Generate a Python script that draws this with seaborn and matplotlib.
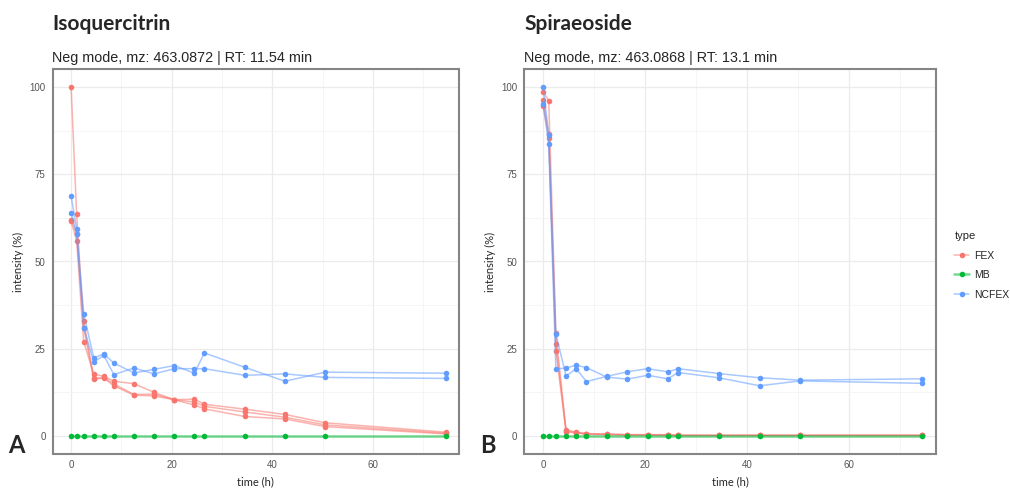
import numpy as np
import pandas as pd
import matplotlib
matplotlib.use("Agg")
import matplotlib.pyplot as plt
import seaborn as sns
from matplotlib.colors import to_rgba

# sampling times (h)
time_h = [0, 1.1, 2.5, 4.5, 6.5, 8.5, 12.5, 16.5, 20.5, 24.5, 26.5, 34.5, 42.5, 50.5, 74.5]

# Isoquercitrin, relative intensity (%)
iso_fex_1 = [100, 63.5, 31, 16.3, 16.6, 14.4, 11.7, 11.5, 10.4, 8.9, 7.8, 5.6, 4.9, 2.7, 0.6]
iso_fex_2 = [61.5, 56, 27, 17.8, 17.1, 15.7, 15.0, 12.5, 10.4, 10.6, 9.1, 7.7, 6.2, 3.8, 1.1]
iso_fex_3 = [62, 58, 33, 16.5, 16.8, 14.9, 11.9, 12.0, 10.4, 9.8, 8.5, 6.9, 5.4, 3.2, 0.8]
iso_nc_1 = [68.7, 59.3, 35, 22.4, 23.5, 20.9, 18.1, 19.1, 20.2, 18.0, 23.8, 19.7, 15.7, 18.3, 18.0]
iso_nc_2 = [64, 58, 31, 21.2, 23.1, 17.6, 19.5, 17.8, 19.3, 19.3, 19.3, 17.4, 17.8, 16.8, 16.5]

# Spiraeoside, relative intensity (%)
spi_fex_1 = [98.6, 96.1, 29.5, 1.7, 1.2, 0.7, 0.6, 0.4, 0.4, 0.4, 0.2, 0.2, 0.2, 0.2, 0.2]
spi_fex_2 = [96.4, 86.5, 26.5, 1.4, 1.0, 0.6, 0.5, 0.4, 0.3, 0.3, 0.2, 0.2, 0.2, 0.2, 0.2]
spi_fex_3 = [94.5, 85.5, 24.5, 1.2, 0.9, 0.5, 0.4, 0.3, 0.3, 0.2, 0.2, 0.2, 0.2, 0.2, 0.2]
spi_nc_1 = [100, 86.2, 29.2, 17.2, 19.3, 15.6, 17.1, 18.4, 19.3, 18.4, 19.3, 17.9, 16.7, 16.0, 16.4]
spi_nc_2 = [95.2, 83.6, 19.2, 19.5, 20.3, 19.6, 16.9, 16.3, 17.4, 16.4, 18.2, 16.7, 14.4, 15.8, 15.1]

# blank (MB) is zero everywhere
mb_blank = [0] * len(time_h)

types = ["FEX", "MB", "NCFEX"]
palette = {"FEX": "#F8766D", "MB": "#00BA38", "NCFEX": "#619CFF"}


def build(series):
    rows = []
    for typ, rep, vals in series:
        for t, v in zip(time_h, vals):
            rows.append({"time": t, "intensity": v, "type": typ, "rep": rep})
    return pd.DataFrame(rows)


df_iso = build([("FEX", 1, iso_fex_1), ("FEX", 2, iso_fex_2), ("FEX", 3, iso_fex_3),
                ("MB", 1, mb_blank),
                ("NCFEX", 1, iso_nc_1), ("NCFEX", 2, iso_nc_2)])
df_spi = build([("FEX", 1, spi_fex_1), ("FEX", 2, spi_fex_2), ("FEX", 3, spi_fex_3),
                ("MB", 1, mb_blank),
                ("NCFEX", 1, spi_nc_1), ("NCFEX", 2, spi_nc_2)])

sns.set_style("white")
plt.rcParams["font.family"] = ["Liberation Sans", "DejaVu Sans"]
calib = ["Lato", "DejaVu Sans"]

fig = plt.figure(figsize=(10.1, 4.9), dpi=100)
ax1 = fig.add_axes([52.5 / 1010, 36.5 / 490, 406.5 / 1010, 384 / 490])
ax2 = fig.add_axes([524.3 / 1010, 36.5 / 490, 411.4 / 1010, 384 / 490])

panels = [
    (ax1, df_iso, "Isoquercitrin", "Neg mode, mz: 463.0872 | RT: 11.54 min", "A"),
    (ax2, df_spi, "Spiraeoside", "Neg mode, mz: 463.0868 | RT: 13.1 min", "B"),
]

for ax, df, title, sub, letter in panels:
    sns.lineplot(data=df, x="time", y="intensity", hue="type", hue_order=types,
                 units="rep", estimator=None, palette=palette, marker="o",
                 markersize=4, markeredgewidth=0, linewidth=1.1, ax=ax)
    for ln in ax.lines:
        c = ln.get_color()
        ln.set_markerfacecolor(c)
        ln.set_color(to_rgba(c, 0.55))
        if c == palette["MB"] or to_rgba(c)[:3] == to_rgba(palette["MB"])[:3]:
            ln.set_linewidth(1.8)

    ax.set_xlim(-3.7, 77.1)
    ax.set_ylim(-5, 105)
    ax.set_xticks([0, 20, 40, 60])
    ax.set_xticks([10, 30, 50, 70], minor=True)
    ax.set_yticks([0, 25, 50, 75, 100])
    ax.set_yticks([12.5, 37.5, 62.5, 87.5], minor=True)
    ax.grid(which="major", color="#EBEBEB", linewidth=0.9)
    ax.grid(which="minor", color="#F4F4F4", linewidth=0.6)
    ax.set_axisbelow(True)
    for s in ax.spines.values():
        s.set_color("#858585")
        s.set_linewidth(1.5)
    ax.tick_params(which="major", length=3, width=0.8, color="#555555",
                   labelsize=7, labelcolor="#555555", pad=2)
    ax.tick_params(which="minor", length=0)
    ax.set_xlabel("time (h)", fontsize=8, family=calib, labelpad=4)
    ax.set_ylabel("intensity (%)", fontsize=8, family=calib, labelpad=4)

    pos = ax.get_position()
    fig.text(pos.x0, 1 - 30 / 490, title, fontsize=15, fontweight="bold",
             family=calib, ha="left", va="baseline")
    fig.text(pos.x0, 1 - 62 / 490, sub, fontsize=10.4, ha="left", va="baseline")
    fig.text(pos.x0 - 44 / 1010, 1 - 453 / 490, letter, fontsize=17,
             fontweight="bold", family=calib, ha="left", va="baseline")

handles, labels = ax1.get_legend_handles_labels()
ax1.get_legend().remove()
ax2.get_legend().remove()
fig.legend(handles, labels, title="type", loc="upper left",
           bbox_to_anchor=(945 / 1010, 1 - 222 / 490), frameon=False,
           fontsize=7.5, title_fontsize=8, handlelength=1.4, handletextpad=0.5,
           labelspacing=0.9, alignment="left")

fig.savefig("out.png", dpi=100, facecolor="white")
